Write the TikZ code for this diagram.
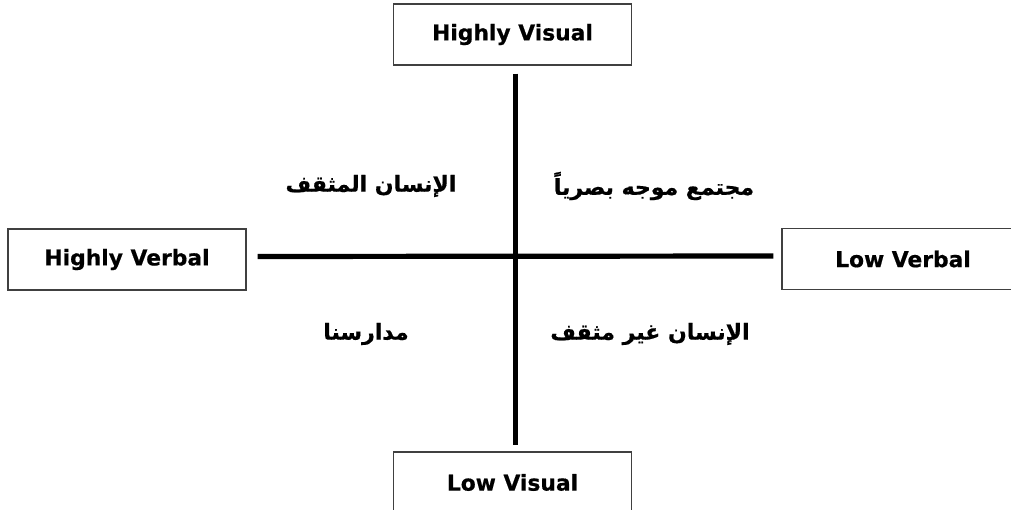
\documentclass[tikz,border=0pt]{standalone}
\usepackage{fontspec}
\setmainfont{DejaVu Sans}[BoldFeatures={FakeBold=0.6}]
\newfontfamily\arabicfont[Script=Arabic,BoldFeatures={FakeBold=0.6}]{DejaVu Sans}
\TeXXeTstate=1
\begin{document}
\begin{tikzpicture}[x=1pt,y=-1pt,
  labelbox/.style={draw=black!75, line width=1.4pt, minimum width=238pt, minimum height=61pt, inner sep=0pt, font=\fontsize{21.8}{26}\selectfont\bfseries},
  axis/.style={line width=5.2pt, black},
  ar/.style={font=\fontsize{22}{26}\selectfont\arabicfont\bfseries, inner sep=0pt}]
\useasboundingbox (0,0) rectangle (1011,510);
\node[labelbox] (top) at (512.5,34.5) {Highly Visual};
\node[labelbox] (bot) at (512.5,482.5) {Low Visual};
\node[labelbox] (left) at (127,259.5) {Highly Verbal};
\node[labelbox, minimum width=242pt] (right) at (903,259) {Low Verbal};
\draw[axis, shorten <=8pt, shorten >=6pt] ([xshift=3pt]top.south) -- ([xshift=3pt]bot.north);
\draw[axis, shorten <=11pt, shorten >=8pt] ([yshift=3pt]left.east) -- ([yshift=3pt]right.west);
\node[ar] (q1) at (371,186) {\beginR الإنسان المثقف\endR};
\node[ar] (q2) at (654,186) {\beginR مجتمع موجه بصرياً\endR};
\node[ar] (q3) at (366,334) {\beginR مدارسنا\endR};
\node[ar] (q4) at (650,334) {\beginR الإنسان غير مثقف\endR};
\end{tikzpicture}
\end{document}
